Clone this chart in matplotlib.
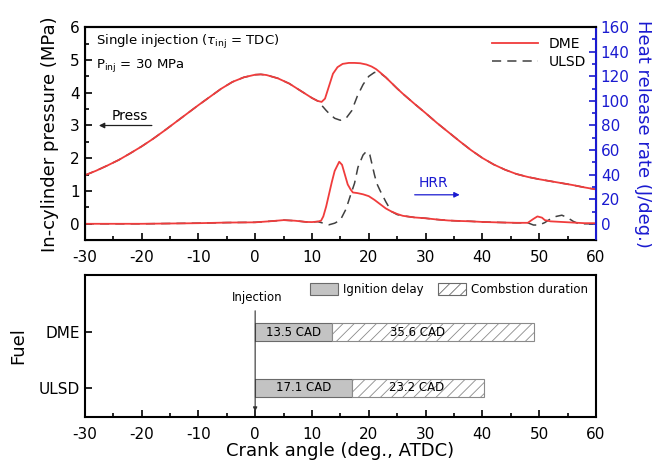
import numpy as np
import matplotlib
matplotlib.use("Agg")
import matplotlib.pyplot as plt
from matplotlib.patches import Patch

plt.rcParams['font.family'] = ['DejaVu Sans']
plt.rcParams['mathtext.fontset'] = 'dejavusans'
plt.rcParams['hatch.linewidth'] = 0.6
plt.rcParams['axes.unicode_minus'] = False

# ---- top panel data ----
# compression part, shared by both fuels
comp_x = [-30, -28, -26, -24, -22, -20, -18, -16, -14, -12, -10, -8, -6, -4, -2, 0, 1, 2, 4, 6, 8,
          9, 10, 11]
comp_p = [1.48, 1.62, 1.78, 1.95, 2.15, 2.36, 2.59, 2.84, 3.10, 3.36, 3.62, 3.87, 4.12, 4.33, 4.47,
          4.55, 4.56, 4.54, 4.44, 4.28, 4.06, 3.95, 3.84, 3.75]

# expansion part, shared after both fuels have burnt
exp_x = [23, 24, 25, 26, 28, 30, 32, 34, 36, 38, 40, 42, 44, 46, 48, 50, 52, 54, 56, 58, 60]
exp_p = [4.47, 4.30, 4.13, 3.97, 3.67, 3.38, 3.08, 2.80, 2.52, 2.25, 2.01, 1.81, 1.65, 1.52,
         1.43, 1.36, 1.30, 1.24, 1.18, 1.11, 1.05]

dme_p_x = [11.7, 12.3, 13, 13.7, 14.5, 15.4, 16.5, 17.5, 18.5, 19.6, 20.5, 21.3, 22]
dme_p_y = [3.72, 3.82, 4.20, 4.58, 4.78, 4.88, 4.91, 4.91, 4.90, 4.86, 4.80, 4.72, 4.62]

ulsd_p_x = [12, 12.5, 13, 14, 15, 16, 17, 18, 19, 20, 21, 22]
ulsd_p_y = [3.56, 3.46, 3.37, 3.22, 3.16, 3.22, 3.45, 3.90, 4.25, 4.50, 4.62, 4.60]

# heat release before ignition, shared
pre_x = [-30, -20, -10, -5, 0, 3, 5, 7, 9, 10, 11]
pre_hrr = [0, 0, 0.5, 1, 1.2, 2.2, 3, 2.5, 1.5, 1.4, 1.8]

# late heat release tail, shared
tail_x = [26, 28, 30, 32, 34, 36, 38, 40, 44, 46, 48]
tail_hrr = [6.5, 5.2, 4.5, 3.5, 2.7, 2.3, 2, 1.5, 1, 0.8, 0.8]

dme_hrr_x = [11.6, 12, 12.5, 13, 13.5, 14, 14.8, 15.3, 15.8, 16.3, 16.8, 17.2, 18, 19, 20, 21,
             22, 23, 24, 25]
dme_hrr_y = [2.5, 6, 14, 24, 34, 43, 50.5, 48, 40, 32, 28, 25.5, 25, 24, 22.5, 19.5, 16, 12.5,
             10, 8]
dme_late_x = [49, 49.7, 50.5, 51, 52, 54, 56, 58, 60]
dme_late_y = [4, 6, 5, 3, 2, 1.5, 1, 0.5, 0.5]

ulsd_hrr_x = [12, 13, 14, 15, 16, 16.7, 17.5, 18.1, 19, 19.6, 20.2, 21, 21.4, 22, 23, 24, 25]
ulsd_hrr_y = [0.5, -0.8, 0.5, 3, 12, 22, 33, 46, 56, 59, 56, 40, 33, 27, 18, 10, 7.5]
ulsd_late_x = [49, 50, 51, 52, 53, 54, 55, 56, 57, 60]
ulsd_late_y = [-1, -1, 1, 4, 6, 7, 5, 2, 0, 0]

# ---- bottom panel data ----
fuels = ['DME', 'ULSD']
ign_delay = [13.5, 17.1]
comb_dur = [35.6, 23.2]
comb_label_x = [28.6, 28.5]

red = '#f03c3c'
blue = '#1a1ad0'
dash = (0, (6, 4))

fig = plt.figure(figsize=(6.52, 4.61), dpi=100)
ax = fig.add_axes([0.130, 0.479, 0.784, 0.462])
ax2 = ax.twinx()

l2, = ax.plot(comp_x + ulsd_p_x + exp_x, comp_p + ulsd_p_y + exp_p,
              color='#404040', lw=1.1, ls=dash, label='ULSD')
l1, = ax.plot(comp_x + dme_p_x + exp_x, comp_p + dme_p_y + exp_p,
              color=red, lw=1.3, label='DME')
ax2.plot(pre_x + ulsd_hrr_x + tail_x + ulsd_late_x, pre_hrr + ulsd_hrr_y + tail_hrr + ulsd_late_y,
         color='#404040', lw=1.1, ls=dash)
ax2.plot(pre_x + dme_hrr_x + tail_x + dme_late_x, pre_hrr + dme_hrr_y + tail_hrr + dme_late_y,
         color=red, lw=1.3)

ax.set_xlim(-30, 60)
ax.set_ylim(-0.5, 6)
ax2.set_ylim(-160 / 12, 160)
ax.set_xticks(np.arange(-30, 61, 10))
ax.set_xticks(np.arange(-25, 60, 10), minor=True)
ax.set_yticks(np.arange(0, 7, 1))
ax.set_yticks(np.arange(0.5, 6, 1), minor=True)
ax2.set_yticks(np.arange(0, 161, 20))
ax2.set_yticks(np.arange(10, 160, 20), minor=True)
ax.tick_params(which='both', direction='in', labelsize=11, width=1.2)
ax.tick_params(which='major', length=5)
ax.tick_params(which='minor', length=3)
ax.tick_params(axis='x', pad=7)
ax2.tick_params(which='both', direction='in', colors=blue, labelsize=11, width=1.2)
ax2.tick_params(which='major', length=5)
ax2.tick_params(which='minor', length=3)
for s in ['left', 'top', 'bottom']:
    ax.spines[s].set_linewidth(1.5)
ax2.spines['right'].set_color(blue)
ax2.spines['right'].set_linewidth(1.5)
ax2.spines['top'].set_linewidth(1.5)

ax.set_ylabel('In-cylinder pressure (MPa)', fontsize=13, labelpad=8)
ax2.set_ylabel('Heat release rate (J/deg.)', fontsize=13, color=blue, rotation=270, labelpad=16)

ax.text(-28, 5.55, r'Single injection ($\tau_{\rm inj}$ = TDC)', fontsize=9.5, va='center')
ax.text(-28, 4.84, r'P$_{\rm inj}$ = 30 MPa', fontsize=9.5, va='center')
ax.text(-22, 3.3, 'Press', fontsize=10, ha='center', va='center')
ax.annotate('', xy=(-28, 3.0), xytext=(-17.7, 3.0),
            arrowprops=dict(arrowstyle='-|>', color='#202020', lw=0.9, mutation_scale=8))
ax2.text(31.4, 33, 'HRR', fontsize=10, ha='center', va='center', color=blue)
ax2.annotate('', xy=(36.5, 23.6), xytext=(27.6, 23.6),
             arrowprops=dict(arrowstyle='-|>', color=blue, lw=0.9, mutation_scale=8))

ax.legend(handles=[l1, l2], loc='upper right', frameon=False, fontsize=10,
          handlelength=3.3, borderaxespad=0.3, labelspacing=0.3)

# ---- bottom panel ----
bx = fig.add_axes([0.130, 0.0954, 0.784, 0.308])
ypos = [1, 0]
bx.barh(ypos, ign_delay, left=0, height=0.32, color='#c3c3c3', edgecolor='#6a6a6a', lw=0.8)
bx.barh(ypos, comb_dur, left=ign_delay, height=0.32, color='white', edgecolor='#8a8a8a',
        hatch='///', lw=0.8)
for y, d, c, lx in zip(ypos, ign_delay, comb_dur, comb_label_x):
    bx.text(d / 2, y, f'{d} CAD', fontsize=8.5, ha='center', va='center')
    bx.text(lx, y, f'{c} CAD', fontsize=8.5, ha='center', va='center')

bx.annotate('', xy=(0, -0.47), xytext=(0, 1.43),
            arrowprops=dict(arrowstyle='-|>', color='#303030', lw=0.8, mutation_scale=6))
bx.text(0.3, 1.62, 'Injection', fontsize=8.5, ha='center', va='center')

bx.set_xlim(-30, 60)
bx.set_ylim(-0.52, 2.02)
bx.set_xticks(np.arange(-30, 61, 10))
bx.set_xticks(np.arange(-25, 60, 10), minor=True)
bx.set_yticks(ypos)
bx.set_yticklabels(fuels)
bx.tick_params(which='both', direction='in', labelsize=11, width=1.2)
bx.tick_params(which='major', length=5)
bx.tick_params(which='minor', length=3)
bx.tick_params(axis='x', pad=7)
for s in bx.spines.values():
    s.set_linewidth(1.5)
bx.set_xlabel('Crank angle (deg., ATDC)', fontsize=13, labelpad=0)
bx.set_ylabel('Fuel', fontsize=13, labelpad=8)

h1 = Patch(facecolor='#c3c3c3', edgecolor='#6a6a6a', lw=0.8, label='Ignition delay')
h2 = Patch(facecolor='white', edgecolor='#6a6a6a', hatch='///', lw=0.8, label='Combstion duration')
bx.legend(handles=[h1, h2], loc='upper right', ncol=2, frameon=False, fontsize=8.5,
          handlelength=2.4, handleheight=1.2, columnspacing=1.2, borderaxespad=0.3,
          handletextpad=0.4)

fig.savefig('out.png', dpi=100)
